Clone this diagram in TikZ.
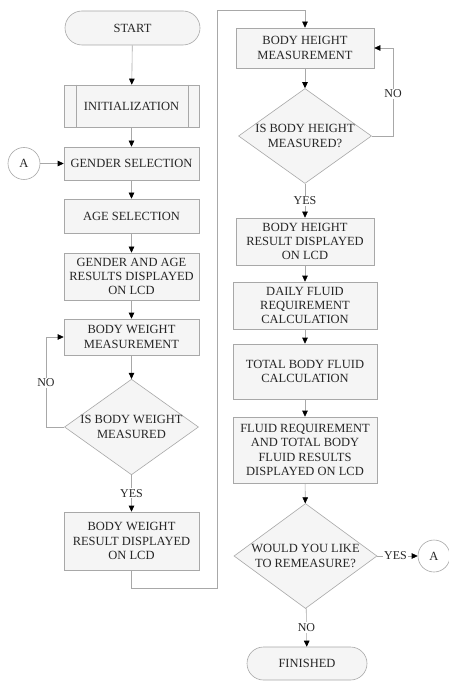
\documentclass[tikz,border=0pt]{standalone}
\usepackage{fontspec}
\setmainfont{Liberation Serif}
\usetikzlibrary{shapes.geometric,shapes.misc,arrows.meta}
\definecolor{edge}{HTML}{A8A8A8}
\definecolor{boxfill}{HTML}{F5F5F5}
\definecolor{txt}{HTML}{262626}
\tikzset{
  base/.style={draw=edge,line width=0.6pt,fill=boxfill,text=txt,align=center,
    font=\fontsize{12.5}{14.3}\selectfont,inner sep=0pt},
  procbox/.style={base,rectangle,minimum width=#1},
  procbox/.default=135pt,
  term/.style={base,rounded rectangle,minimum height=34pt},
  decision/.style={base,diamond,aspect=1.4},
  conn/.style={base,circle,fill=white,minimum size=32pt},
  flow/.style={draw=edge,line width=0.6pt,-{Triangle[length=6pt,width=5.5pt,color=black]}},
  lbl/.style={fill=white,text=txt,font=\fontsize{12}{14}\selectfont,inner sep=1pt}
}
\begin{document}
\begin{tikzpicture}[x=1pt,y=-1pt]
\useasboundingbox[fill=white] (0,0) rectangle (448,684);
% left column
\node[term,minimum width=135pt] (start) at (132.5,28) {START};
\node[procbox,minimum height=42pt] (init) at (131.5,106) {INITIALIZATION};
\draw[edge,line width=0.6pt] ([xshift=13pt]init.north west) -- ([xshift=13pt]init.south west);
\draw[edge,line width=0.6pt] ([xshift=-11pt]init.north east) -- ([xshift=-11pt]init.south east);
\node[procbox,minimum height=33pt] (gender) at (131.5,163.5) {GENDER SELECTION};
\node[conn] (a1) at (24,163.5) {A};
\node[procbox,minimum height=34pt] (age) at (131.5,216) {AGE SELECTION};
\node[procbox,minimum height=47pt] (gar) at (131.5,276.5) {GENDER AND AGE\\RESULTS DISPLAYED\\ON LCD};
\node[procbox,minimum height=36pt] (bwm) at (131.5,337) {BODY WEIGHT\\MEASUREMENT};
\node[decision,minimum width=134pt,minimum height=95pt] (d1) at (131.5,427) {IS BODY WEIGHT\\MEASURED};
\node[procbox,minimum height=58pt] (bwr) at (131.5,541) {BODY WEIGHT\\RESULT DISPLAYED\\ON LCD};
% right column
\node[procbox=138pt,minimum height=40pt] (bhm) at (305,48) {BODY HEIGHT\\MEASUREMENT};
\node[decision,minimum width=133pt,minimum height=95pt] (d2) at (305,136) {IS BODY HEIGHT\\MEASURED?};
\node[procbox=138pt,minimum height=47pt] (bhr) at (305,241.5) {BODY HEIGHT\\RESULT DISPLAYED\\ON LCD};
\node[procbox=144pt,minimum height=47pt] (daily) at (305,305.5) {DAILY FLUID\\REQUIREMENT\\CALCULATION};
\node[procbox=144pt,minimum height=55pt] (total) at (305,371.5) {TOTAL BODY FLUID\\CALCULATION};
\node[procbox=144pt,minimum height=66pt] (fres) at (305,450) {FLUID REQUIREMENT\\AND TOTAL BODY\\FLUID RESULTS\\DISPLAYED ON LCD};
\node[decision,minimum width=143pt,minimum height=105pt] (d3) at (305.5,556) {WOULD YOU LIKE\\TO REMEASURE?};
\node[term,minimum width=120pt,minimum height=33pt] (fin) at (307,663.5) {FINISHED};
\node[conn] (a2) at (434,556) {A};
% helper coordinates
\coordinate (c1) at (217,588);
\coordinate (c2) at (217,10);
\coordinate (n1) at (46,427);
\coordinate (n2) at (393,136);
% connectors
\draw[flow] (start) -- (init);
\draw[flow] (init) -- (gender);
\draw[flow] (a1) -- (gender);
\draw[flow] (gender) -- (age);
\draw[flow] (age) -- (gar);
\draw[flow] (gar) -- (bwm);
\draw[flow] (bwm) -- (d1);
\draw[flow] (d1.west) -- (n1) |- node[lbl,pos=0.245]{NO} (bwm.west);
\draw[flow] (d1) -- node[lbl,pos=0.5]{YES} (bwr);
\draw[flow] (bwr.south) |- (c1) -- (c2) -| (bhm.north);
\draw[flow] (bhm) -- (d2);
\draw[flow] (d2.east) -- (n2) |- node[lbl,pos=0.24]{NO} (bhm.east);
\draw[flow] (d2) -- node[lbl,pos=0.5]{YES} (bhr);
\draw[flow] (bhr) -- (daily);
\draw[flow] (daily) -- (total);
\draw[flow] (total) -- (fres);
\draw[flow] (fres) -- (d3);
\draw[flow] (d3.east) -- node[lbl,pos=0.45]{YES} (a2);
\draw[flow] (d3) -- node[lbl,pos=0.5]{NO} (fin);
\end{tikzpicture}
\end{document}
